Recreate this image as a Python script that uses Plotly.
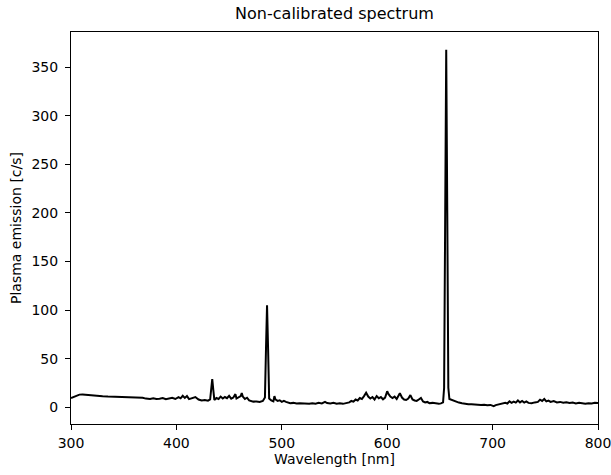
import plotly.graph_objects as go

wavelength_nm = [
    300, 302, 305, 308, 311, 314, 318, 322, 326, 330, 335, 340, 345, 350, 355, 360,
    365, 368, 371, 375, 378, 381, 384, 387, 390, 393, 396, 399, 402, 404, 406, 408,
    410, 412, 415, 418, 421, 424, 427, 430, 432, 433, 434, 435, 436, 438, 440, 442,
    444, 446, 448, 450, 452, 454, 456, 457, 459, 461, 462, 463, 465, 467, 469, 471,
    473, 476, 479, 482, 484, 485, 486, 487, 488, 490, 492, 493, 494, 496, 498, 500,
    502, 504, 506, 508, 511, 514, 517, 520, 523, 526, 529, 532, 535, 538, 541, 543,
    546, 549, 552, 555, 558, 561, 564, 566, 568, 570, 572, 574, 576, 578, 580, 582,
    584, 586, 588, 590, 592, 594, 596, 598, 600, 601, 603, 605, 607, 609, 611, 612,
    614, 616, 618, 620, 622, 624, 626, 628, 630, 632, 634, 636, 638, 640, 643, 646,
    649, 651, 653, 654, 655, 656, 657, 658, 659, 661, 663, 665, 668, 671, 674, 677,
    680, 683, 686, 689, 692, 695, 698, 701, 703, 706, 709, 712, 714, 716, 718, 720,
    722, 724, 726, 728, 730, 732, 734, 737, 740, 743, 745, 747, 749, 751, 753, 755,
    758, 761, 764, 767, 770, 773, 776, 779, 782, 785, 788, 791, 794, 797, 800,
]

emission_cps = [
    9.5, 10.5, 12, 13, 13.2, 12.8, 12.3, 12, 11.6, 11.3, 11, 10.8, 10.5, 10.2, 10, 9.7,
    9.3, 9.8, 8.9, 8.6, 9.2, 8.4, 8.8, 9.5, 8.2, 8.7, 9.8, 8.5, 10.5, 9.2, 11.8, 9.6,
    11.5, 8.4, 9.4, 10.5, 8, 7, 7.5, 6.8, 8, 20, 29, 18, 7.5, 9.5, 8.5, 11,
    9, 10.5, 9.3, 11.8, 8.8, 10, 13.5, 9, 10.5, 11.5, 14.5, 11, 8.5, 9.8, 7, 6.2,
    5.8, 6, 5.5, 6.5, 10, 60, 105, 60, 9, 7, 6, 11.5, 8, 6.5, 7.2, 5.5,
    6.5, 5.5, 5, 4.2, 4.5, 3.8, 4, 3.6, 3.9, 3.5, 4.2, 3.7, 4.5, 4, 5.5, 4.3,
    3.8, 4.6, 3.7, 4.2, 3.5, 4, 5, 6.5, 5.8, 8, 7, 9.5, 8.5, 11.5, 15, 11,
    9, 10.5, 8, 11.5, 9.2, 10.5, 8.2, 10, 16.5, 14, 11, 9.5, 11, 8.5, 12, 14.5,
    10, 8, 7.5, 9, 12.5, 8, 7, 6.5, 8, 9.5, 6, 5, 5.5, 4.2, 4.5, 3.8,
    3.5, 4, 5, 20, 200, 368, 200, 20, 8.5, 7.5, 6.5, 5.5, 4.8, 4.2, 3.5, 3.2,
    3, 2.6, 2.8, 2.3, 2.6, 2, 2.4, 1.1, 2.2, 2.8, 3.2, 4.5, 3.8, 6, 4.5, 5.8,
    4.8, 7, 5, 6.5, 4.8, 6, 4.5, 4.2, 5, 5.5, 7.8, 6.5, 8.5, 6, 6.8, 5.5,
    6.3, 5, 5.5, 4.6, 5.2, 4.4, 4.8, 4, 4.6, 3.8, 3.5, 4.2, 3.8, 4.5, 4.3,
]

x_ticks = [300, 400, 500, 600, 700, 800]
y_ticks = [0, 50, 100, 150, 200, 250, 300, 350]

title_text = "Non-calibrated spectrum"
x_label = "Wavelength [nm]"
y_label = "Plasma emission [c/s]"

ymin, ymax = min(emission_cps), max(emission_cps)
pad = 0.05 * (ymax - ymin)

FONT = "DejaVu Sans"

fig = go.Figure()
fig.add_trace(go.Scatter(
    x=wavelength_nm, y=emission_cps, mode="lines",
    line=dict(color="black", width=2), showlegend=False,
))

axis_common = dict(
    showgrid=False, zeroline=False, showline=True, linecolor="black", linewidth=1,
    mirror=True, ticks="outside", ticklen=5, tickwidth=1, tickcolor="black",
    ticklabeloverflow="allow",
    tickfont=dict(family=FONT, size=14, color="black"),
)

fig.update_layout(
    width=611, height=475,
    margin=dict(l=71, r=13, t=32, b=51, autoexpand=False),
    paper_bgcolor="white", plot_bgcolor="white",
    font=dict(family=FONT, size=14, color="black"),
    title=dict(text=title_text, x=0.5, xref="paper", xanchor="center",
               y=1, yref="paper", yanchor="bottom", pad=dict(b=13),
               font=dict(family=FONT, size=16, color="black")),
    xaxis=dict(range=[300, 800.0001], tickvals=x_ticks, ticklabelstandoff=1,
               title=dict(text=x_label, standoff=4,
                          font=dict(family=FONT, size=14, color="black")),
               **axis_common),
    yaxis=dict(range=[ymin - pad, ymax + pad], tickvals=y_ticks, ticklabelstandoff=4,
               title=dict(text=y_label, standoff=6,
                          font=dict(family=FONT, size=14, color="black")),
               **axis_common),
)

fig.write_html("out.html", config={"displayModeBar": False},
               post_script="document.body.style.margin='0';")
